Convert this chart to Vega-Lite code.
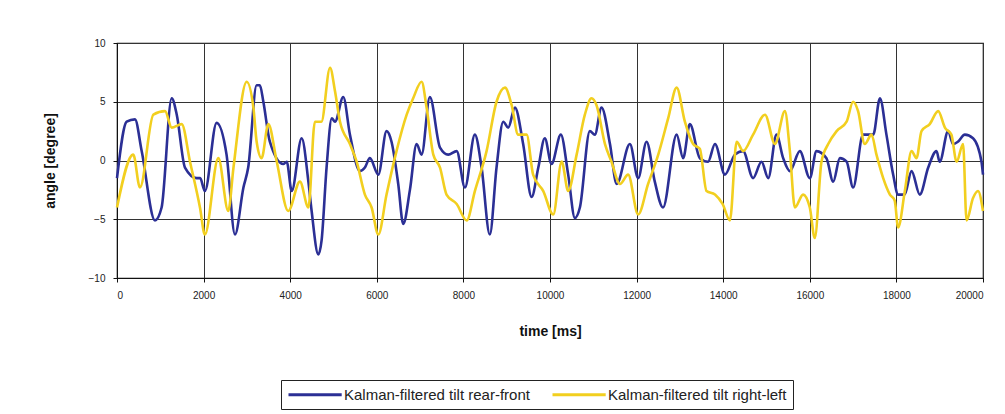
{
  "$schema": "https://vega.github.io/schema/vega-lite/v6.json",
  "autosize": {"type": "none"},
  "padding": {"left": 117, "top": 43, "right": 22, "bottom": 136},
  "width": 866,
  "height": 235,
  "background": "white",
  "config": {
    "font": "Liberation Sans",
    "view": {"stroke": "#111", "strokeWidth": 1.2}
  },
  "data": {"values": [
    {"t":0,"a":-1.5,"s":"Kalman-filtered tilt rear-front"},
    {"t":223,"a":3.3,"s":"Kalman-filtered tilt rear-front"},
    {"t":415,"a":3.5,"s":"Kalman-filtered tilt rear-front"},
    {"t":570,"a":0.8,"s":"Kalman-filtered tilt rear-front"},
    {"t":877,"a":-5.1,"s":"Kalman-filtered tilt rear-front"},
    {"t":1030,"a":-4,"s":"Kalman-filtered tilt rear-front"},
    {"t":1263,"a":5.3,"s":"Kalman-filtered tilt rear-front"},
    {"t":1380,"a":3.9,"s":"Kalman-filtered tilt rear-front"},
    {"t":1570,"a":-0.6,"s":"Kalman-filtered tilt rear-front"},
    {"t":1840,"a":-1.5,"s":"Kalman-filtered tilt rear-front"},
    {"t":1920,"a":-1.5,"s":"Kalman-filtered tilt rear-front"},
    {"t":2030,"a":-2.6,"s":"Kalman-filtered tilt rear-front"},
    {"t":2300,"a":3.2,"s":"Kalman-filtered tilt rear-front"},
    {"t":2530,"a":0.5,"s":"Kalman-filtered tilt rear-front"},
    {"t":2725,"a":-6.3,"s":"Kalman-filtered tilt rear-front"},
    {"t":2920,"a":-2.3,"s":"Kalman-filtered tilt rear-front"},
    {"t":3030,"a":-0.6,"s":"Kalman-filtered tilt rear-front"},
    {"t":3225,"a":6.4,"s":"Kalman-filtered tilt rear-front"},
    {"t":3300,"a":6.4,"s":"Kalman-filtered tilt rear-front"},
    {"t":3380,"a":5.0,"s":"Kalman-filtered tilt rear-front"},
    {"t":3530,"a":1.6,"s":"Kalman-filtered tilt rear-front"},
    {"t":3840,"a":-0.3,"s":"Kalman-filtered tilt rear-front"},
    {"t":3920,"a":-0.1,"s":"Kalman-filtered tilt rear-front"},
    {"t":4035,"a":-2.6,"s":"Kalman-filtered tilt rear-front"},
    {"t":4265,"a":1.9,"s":"Kalman-filtered tilt rear-front"},
    {"t":4420,"a":-1.8,"s":"Kalman-filtered tilt rear-front"},
    {"t":4495,"a":-4.3,"s":"Kalman-filtered tilt rear-front"},
    {"t":4650,"a":-8.0,"s":"Kalman-filtered tilt rear-front"},
    {"t":4725,"a":-6.8,"s":"Kalman-filtered tilt rear-front"},
    {"t":4840,"a":-0.6,"s":"Kalman-filtered tilt rear-front"},
    {"t":4960,"a":3.6,"s":"Kalman-filtered tilt rear-front"},
    {"t":5035,"a":3.3,"s":"Kalman-filtered tilt rear-front"},
    {"t":5225,"a":5.4,"s":"Kalman-filtered tilt rear-front"},
    {"t":5380,"a":2.2,"s":"Kalman-filtered tilt rear-front"},
    {"t":5610,"a":-0.9,"s":"Kalman-filtered tilt rear-front"},
    {"t":5725,"a":-0.6,"s":"Kalman-filtered tilt rear-front"},
    {"t":5840,"a":0.2,"s":"Kalman-filtered tilt rear-front"},
    {"t":6035,"a":-1.2,"s":"Kalman-filtered tilt rear-front"},
    {"t":6225,"a":2.5,"s":"Kalman-filtered tilt rear-front"},
    {"t":6340,"a":1.6,"s":"Kalman-filtered tilt rear-front"},
    {"t":6495,"a":-2.0,"s":"Kalman-filtered tilt rear-front"},
    {"t":6610,"a":-5.4,"s":"Kalman-filtered tilt rear-front"},
    {"t":6765,"a":-2.5,"s":"Kalman-filtered tilt rear-front"},
    {"t":6920,"a":1.4,"s":"Kalman-filtered tilt rear-front"},
    {"t":7035,"a":0.5,"s":"Kalman-filtered tilt rear-front"},
    {"t":7225,"a":5.4,"s":"Kalman-filtered tilt rear-front"},
    {"t":7460,"a":1.1,"s":"Kalman-filtered tilt rear-front"},
    {"t":7650,"a":0.5,"s":"Kalman-filtered tilt rear-front"},
    {"t":7845,"a":0.8,"s":"Kalman-filtered tilt rear-front"},
    {"t":8035,"a":-2.3,"s":"Kalman-filtered tilt rear-front"},
    {"t":8265,"a":2.2,"s":"Kalman-filtered tilt rear-front"},
    {"t":8420,"a":-0.6,"s":"Kalman-filtered tilt rear-front"},
    {"t":8610,"a":-6.3,"s":"Kalman-filtered tilt rear-front"},
    {"t":8765,"a":-0.6,"s":"Kalman-filtered tilt rear-front"},
    {"t":8920,"a":3.3,"s":"Kalman-filtered tilt rear-front"},
    {"t":9035,"a":2.8,"s":"Kalman-filtered tilt rear-front"},
    {"t":9190,"a":4.5,"s":"Kalman-filtered tilt rear-front"},
    {"t":9380,"a":1.4,"s":"Kalman-filtered tilt rear-front"},
    {"t":9575,"a":-3.1,"s":"Kalman-filtered tilt rear-front"},
    {"t":9730,"a":-0.6,"s":"Kalman-filtered tilt rear-front"},
    {"t":9880,"a":1.9,"s":"Kalman-filtered tilt rear-front"},
    {"t":10035,"a":-0.3,"s":"Kalman-filtered tilt rear-front"},
    {"t":10250,"a":2.2,"s":"Kalman-filtered tilt rear-front"},
    {"t":10420,"a":-1.2,"s":"Kalman-filtered tilt rear-front"},
    {"t":10575,"a":-4.9,"s":"Kalman-filtered tilt rear-front"},
    {"t":10690,"a":-4.0,"s":"Kalman-filtered tilt rear-front"},
    {"t":10920,"a":2.5,"s":"Kalman-filtered tilt rear-front"},
    {"t":11035,"a":2.2,"s":"Kalman-filtered tilt rear-front"},
    {"t":11190,"a":4.5,"s":"Kalman-filtered tilt rear-front"},
    {"t":11385,"a":1.4,"s":"Kalman-filtered tilt rear-front"},
    {"t":11540,"a":-2.0,"s":"Kalman-filtered tilt rear-front"},
    {"t":11845,"a":1.4,"s":"Kalman-filtered tilt rear-front"},
    {"t":12035,"a":-1.5,"s":"Kalman-filtered tilt rear-front"},
    {"t":12230,"a":1.6,"s":"Kalman-filtered tilt rear-front"},
    {"t":12420,"a":-1.8,"s":"Kalman-filtered tilt rear-front"},
    {"t":12610,"a":-4.0,"s":"Kalman-filtered tilt rear-front"},
    {"t":12925,"a":2.2,"s":"Kalman-filtered tilt rear-front"},
    {"t":13075,"a":0.2,"s":"Kalman-filtered tilt rear-front"},
    {"t":13230,"a":3.1,"s":"Kalman-filtered tilt rear-front"},
    {"t":13460,"a":0.2,"s":"Kalman-filtered tilt rear-front"},
    {"t":13650,"a":-0.1,"s":"Kalman-filtered tilt rear-front"},
    {"t":13810,"a":1.4,"s":"Kalman-filtered tilt rear-front"},
    {"t":14040,"a":-1.2,"s":"Kalman-filtered tilt rear-front"},
    {"t":14270,"a":0.5,"s":"Kalman-filtered tilt rear-front"},
    {"t":14460,"a":0.8,"s":"Kalman-filtered tilt rear-front"},
    {"t":14690,"a":-1.5,"s":"Kalman-filtered tilt rear-front"},
    {"t":14885,"a":-0.1,"s":"Kalman-filtered tilt rear-front"},
    {"t":15040,"a":-1.5,"s":"Kalman-filtered tilt rear-front"},
    {"t":15230,"a":2.2,"s":"Kalman-filtered tilt rear-front"},
    {"t":15385,"a":0.2,"s":"Kalman-filtered tilt rear-front"},
    {"t":15540,"a":-0.9,"s":"Kalman-filtered tilt rear-front"},
    {"t":15770,"a":0.8,"s":"Kalman-filtered tilt rear-front"},
    {"t":16000,"a":-1.5,"s":"Kalman-filtered tilt rear-front"},
    {"t":16155,"a":0.8,"s":"Kalman-filtered tilt rear-front"},
    {"t":16385,"a":0.2,"s":"Kalman-filtered tilt rear-front"},
    {"t":16540,"a":-1.8,"s":"Kalman-filtered tilt rear-front"},
    {"t":16695,"a":0.2,"s":"Kalman-filtered tilt rear-front"},
    {"t":16850,"a":-0.1,"s":"Kalman-filtered tilt rear-front"},
    {"t":17000,"a":-2.3,"s":"Kalman-filtered tilt rear-front"},
    {"t":17230,"a":2.2,"s":"Kalman-filtered tilt rear-front"},
    {"t":17465,"a":2.2,"s":"Kalman-filtered tilt rear-front"},
    {"t":17620,"a":5.3,"s":"Kalman-filtered tilt rear-front"},
    {"t":17770,"a":2.2,"s":"Kalman-filtered tilt rear-front"},
    {"t":17925,"a":-1.2,"s":"Kalman-filtered tilt rear-front"},
    {"t":18040,"a":-2.9,"s":"Kalman-filtered tilt rear-front"},
    {"t":18190,"a":-2.9,"s":"Kalman-filtered tilt rear-front"},
    {"t":18350,"a":-0.9,"s":"Kalman-filtered tilt rear-front"},
    {"t":18540,"a":-2.9,"s":"Kalman-filtered tilt rear-front"},
    {"t":18735,"a":-0.6,"s":"Kalman-filtered tilt rear-front"},
    {"t":18925,"a":0.8,"s":"Kalman-filtered tilt rear-front"},
    {"t":19000,"a":-0.1,"s":"Kalman-filtered tilt rear-front"},
    {"t":19195,"a":2.5,"s":"Kalman-filtered tilt rear-front"},
    {"t":19310,"a":1.4,"s":"Kalman-filtered tilt rear-front"},
    {"t":19420,"a":1.6,"s":"Kalman-filtered tilt rear-front"},
    {"t":19580,"a":2.2,"s":"Kalman-filtered tilt rear-front"},
    {"t":19770,"a":1.9,"s":"Kalman-filtered tilt rear-front"},
    {"t":19965,"a":-0.1,"s":"Kalman-filtered tilt rear-front"},
    {"t":20000,"a":-1.2,"s":"Kalman-filtered tilt rear-front"},
    {"t":0,"a":-4,"s":"Kalman-filtered tilt right-left"},
    {"t":376,"a":0.5,"s":"Kalman-filtered tilt right-left"},
    {"t":530,"a":-2.3,"s":"Kalman-filtered tilt right-left"},
    {"t":840,"a":3.9,"s":"Kalman-filtered tilt right-left"},
    {"t":1110,"a":4.2,"s":"Kalman-filtered tilt right-left"},
    {"t":1263,"a":2.8,"s":"Kalman-filtered tilt right-left"},
    {"t":1494,"a":3.1,"s":"Kalman-filtered tilt right-left"},
    {"t":1686,"a":-0.1,"s":"Kalman-filtered tilt right-left"},
    {"t":1916,"a":-4,"s":"Kalman-filtered tilt right-left"},
    {"t":2030,"a":-6.3,"s":"Kalman-filtered tilt right-left"},
    {"t":2340,"a":0.2,"s":"Kalman-filtered tilt right-left"},
    {"t":2570,"a":-4.3,"s":"Kalman-filtered tilt right-left"},
    {"t":2690,"a":-0.6,"s":"Kalman-filtered tilt right-left"},
    {"t":2995,"a":6.7,"s":"Kalman-filtered tilt right-left"},
    {"t":3150,"a":4.5,"s":"Kalman-filtered tilt right-left"},
    {"t":3225,"a":1.6,"s":"Kalman-filtered tilt right-left"},
    {"t":3340,"a":0.2,"s":"Kalman-filtered tilt right-left"},
    {"t":3495,"a":3.1,"s":"Kalman-filtered tilt right-left"},
    {"t":3690,"a":-0.1,"s":"Kalman-filtered tilt right-left"},
    {"t":3955,"a":-4.3,"s":"Kalman-filtered tilt right-left"},
    {"t":4225,"a":-1.8,"s":"Kalman-filtered tilt right-left"},
    {"t":4420,"a":-4.0,"s":"Kalman-filtered tilt right-left"},
    {"t":4570,"a":3.3,"s":"Kalman-filtered tilt right-left"},
    {"t":4720,"a":3.3,"s":"Kalman-filtered tilt right-left"},
    {"t":4920,"a":7.9,"s":"Kalman-filtered tilt right-left"},
    {"t":5035,"a":5.9,"s":"Kalman-filtered tilt right-left"},
    {"t":5150,"a":3.3,"s":"Kalman-filtered tilt right-left"},
    {"t":5380,"a":1.4,"s":"Kalman-filtered tilt right-left"},
    {"t":5535,"a":-0.1,"s":"Kalman-filtered tilt right-left"},
    {"t":5725,"a":-2.9,"s":"Kalman-filtered tilt right-left"},
    {"t":5880,"a":-4.0,"s":"Kalman-filtered tilt right-left"},
    {"t":6035,"a":-6.3,"s":"Kalman-filtered tilt right-left"},
    {"t":6225,"a":-2.9,"s":"Kalman-filtered tilt right-left"},
    {"t":6455,"a":0.8,"s":"Kalman-filtered tilt right-left"},
    {"t":6690,"a":3.9,"s":"Kalman-filtered tilt right-left"},
    {"t":6840,"a":5.3,"s":"Kalman-filtered tilt right-left"},
    {"t":7035,"a":6.7,"s":"Kalman-filtered tilt right-left"},
    {"t":7150,"a":4.5,"s":"Kalman-filtered tilt right-left"},
    {"t":7305,"a":0.5,"s":"Kalman-filtered tilt right-left"},
    {"t":7460,"a":-0.6,"s":"Kalman-filtered tilt right-left"},
    {"t":7610,"a":-2.9,"s":"Kalman-filtered tilt right-left"},
    {"t":7845,"a":-3.7,"s":"Kalman-filtered tilt right-left"},
    {"t":8075,"a":-5.1,"s":"Kalman-filtered tilt right-left"},
    {"t":8265,"a":-2.6,"s":"Kalman-filtered tilt right-left"},
    {"t":8535,"a":0.8,"s":"Kalman-filtered tilt right-left"},
    {"t":8765,"a":5.0,"s":"Kalman-filtered tilt right-left"},
    {"t":8960,"a":6.2,"s":"Kalman-filtered tilt right-left"},
    {"t":9115,"a":4.7,"s":"Kalman-filtered tilt right-left"},
    {"t":9265,"a":2.2,"s":"Kalman-filtered tilt right-left"},
    {"t":9460,"a":2.2,"s":"Kalman-filtered tilt right-left"},
    {"t":9610,"a":-1.2,"s":"Kalman-filtered tilt right-left"},
    {"t":9845,"a":-2.6,"s":"Kalman-filtered tilt right-left"},
    {"t":10075,"a":-4.6,"s":"Kalman-filtered tilt right-left"},
    {"t":10270,"a":-0.1,"s":"Kalman-filtered tilt right-left"},
    {"t":10420,"a":-2.6,"s":"Kalman-filtered tilt right-left"},
    {"t":10615,"a":0.5,"s":"Kalman-filtered tilt right-left"},
    {"t":10805,"a":3.9,"s":"Kalman-filtered tilt right-left"},
    {"t":10960,"a":5.3,"s":"Kalman-filtered tilt right-left"},
    {"t":11075,"a":4.7,"s":"Kalman-filtered tilt right-left"},
    {"t":11270,"a":1.4,"s":"Kalman-filtered tilt right-left"},
    {"t":11420,"a":-0.1,"s":"Kalman-filtered tilt right-left"},
    {"t":11615,"a":-2.0,"s":"Kalman-filtered tilt right-left"},
    {"t":11805,"a":-1.2,"s":"Kalman-filtered tilt right-left"},
    {"t":12035,"a":-4.6,"s":"Kalman-filtered tilt right-left"},
    {"t":12265,"a":-2.0,"s":"Kalman-filtered tilt right-left"},
    {"t":12500,"a":0.5,"s":"Kalman-filtered tilt right-left"},
    {"t":12730,"a":3.6,"s":"Kalman-filtered tilt right-left"},
    {"t":12925,"a":6.2,"s":"Kalman-filtered tilt right-left"},
    {"t":13115,"a":3.3,"s":"Kalman-filtered tilt right-left"},
    {"t":13305,"a":1.4,"s":"Kalman-filtered tilt right-left"},
    {"t":13460,"a":1.0,"s":"Kalman-filtered tilt right-left"},
    {"t":13615,"a":-2.6,"s":"Kalman-filtered tilt right-left"},
    {"t":13810,"a":-2.9,"s":"Kalman-filtered tilt right-left"},
    {"t":13985,"a":-3.7,"s":"Kalman-filtered tilt right-left"},
    {"t":14155,"a":-5.1,"s":"Kalman-filtered tilt right-left"},
    {"t":14310,"a":1.6,"s":"Kalman-filtered tilt right-left"},
    {"t":14460,"a":0.8,"s":"Kalman-filtered tilt right-left"},
    {"t":14690,"a":2.2,"s":"Kalman-filtered tilt right-left"},
    {"t":14965,"a":3.9,"s":"Kalman-filtered tilt right-left"},
    {"t":15195,"a":1.4,"s":"Kalman-filtered tilt right-left"},
    {"t":15425,"a":4.2,"s":"Kalman-filtered tilt right-left"},
    {"t":15540,"a":0.8,"s":"Kalman-filtered tilt right-left"},
    {"t":15655,"a":-4.0,"s":"Kalman-filtered tilt right-left"},
    {"t":15845,"a":-2.9,"s":"Kalman-filtered tilt right-left"},
    {"t":16000,"a":-4.0,"s":"Kalman-filtered tilt right-left"},
    {"t":16115,"a":-6.6,"s":"Kalman-filtered tilt right-left"},
    {"t":16270,"a":-0.1,"s":"Kalman-filtered tilt right-left"},
    {"t":16425,"a":1.4,"s":"Kalman-filtered tilt right-left"},
    {"t":16620,"a":2.5,"s":"Kalman-filtered tilt right-left"},
    {"t":16850,"a":3.3,"s":"Kalman-filtered tilt right-left"},
    {"t":17000,"a":5.0,"s":"Kalman-filtered tilt right-left"},
    {"t":17115,"a":4.2,"s":"Kalman-filtered tilt right-left"},
    {"t":17270,"a":1.4,"s":"Kalman-filtered tilt right-left"},
    {"t":17425,"a":2.2,"s":"Kalman-filtered tilt right-left"},
    {"t":17540,"a":0.5,"s":"Kalman-filtered tilt right-left"},
    {"t":17695,"a":-1.5,"s":"Kalman-filtered tilt right-left"},
    {"t":17850,"a":-2.9,"s":"Kalman-filtered tilt right-left"},
    {"t":17960,"a":-3.4,"s":"Kalman-filtered tilt right-left"},
    {"t":18040,"a":-5.7,"s":"Kalman-filtered tilt right-left"},
    {"t":18195,"a":-2.6,"s":"Kalman-filtered tilt right-left"},
    {"t":18350,"a":0.8,"s":"Kalman-filtered tilt right-left"},
    {"t":18465,"a":0.2,"s":"Kalman-filtered tilt right-left"},
    {"t":18580,"a":2.5,"s":"Kalman-filtered tilt right-left"},
    {"t":18770,"a":3.1,"s":"Kalman-filtered tilt right-left"},
    {"t":18965,"a":4.2,"s":"Kalman-filtered tilt right-left"},
    {"t":19120,"a":2.8,"s":"Kalman-filtered tilt right-left"},
    {"t":19270,"a":2.2,"s":"Kalman-filtered tilt right-left"},
    {"t":19390,"a":-0.1,"s":"Kalman-filtered tilt right-left"},
    {"t":19540,"a":1.4,"s":"Kalman-filtered tilt right-left"},
    {"t":19620,"a":-5.1,"s":"Kalman-filtered tilt right-left"},
    {"t":19770,"a":-3.2,"s":"Kalman-filtered tilt right-left"},
    {"t":19885,"a":-2.6,"s":"Kalman-filtered tilt right-left"},
    {"t":20000,"a":-4.3,"s":"Kalman-filtered tilt right-left"}
  ]},
  "mark": {"type": "line", "strokeWidth": 2.6, "interpolate": "monotone"},
  "encoding": {
    "x": {
      "field": "t", "type": "quantitative",
      "scale": {"domain": [0, 20000], "nice": false},
      "axis": {
        "title": "time [ms]",
        "values": [0,2000,4000,6000,8000,10000,12000,14000,16000,18000,20000],
        "format": "d",
        "grid": true, "gridColor": "#333", "gridOpacity": 1, "gridWidth": 1,
        "domainColor": "#111", "tickColor": "#111", "tickSize": 4,
        "labelFontSize": 10, "labelColor": "#222", "labelPadding": 8,
        "titleFontSize": 14, "titleFontWeight": "bold", "titleColor": "#111", "titlePadding": 24
      }
    },
    "y": {
      "field": "a", "type": "quantitative",
      "scale": {"domain": [-10, 10], "nice": false},
      "axis": {
        "title": "angle [degree]",
        "values": [-10,-5,0,5,10],
        "grid": true, "gridColor": "#333", "gridOpacity": 1, "gridWidth": 1,
        "domainColor": "#111", "tickColor": "#111", "tickSize": 4,
        "labelFontSize": 10, "labelColor": "#222", "labelPadding": 8,
        "titleFontSize": 14, "titleFontWeight": "bold", "titleColor": "#111", "titlePadding": 31
      }
    },
    "color": {
      "field": "s", "type": "nominal",
      "scale": {"domain": ["Kalman-filtered tilt rear-front", "Kalman-filtered tilt right-left"], "range": ["#2b2f95", "#f2cf1f"]},
      "legend": {
        "title": null,
        "orient": "none",
        "legendX": 164,
        "legendY": 337,
        "direction": "horizontal",
        "symbolType": "M-1,0H6.6",
        "symbolSize": 196,
        "symbolStrokeWidth": 3,
        "labelFontSize": 15,
        "labelLimit": 400,
        "labelColor": "#222",
        "labelOffset": 40,
        "columnPadding": 16,
        "strokeColor": "#222",
        "padding": 6
      }
    }
  }
}
